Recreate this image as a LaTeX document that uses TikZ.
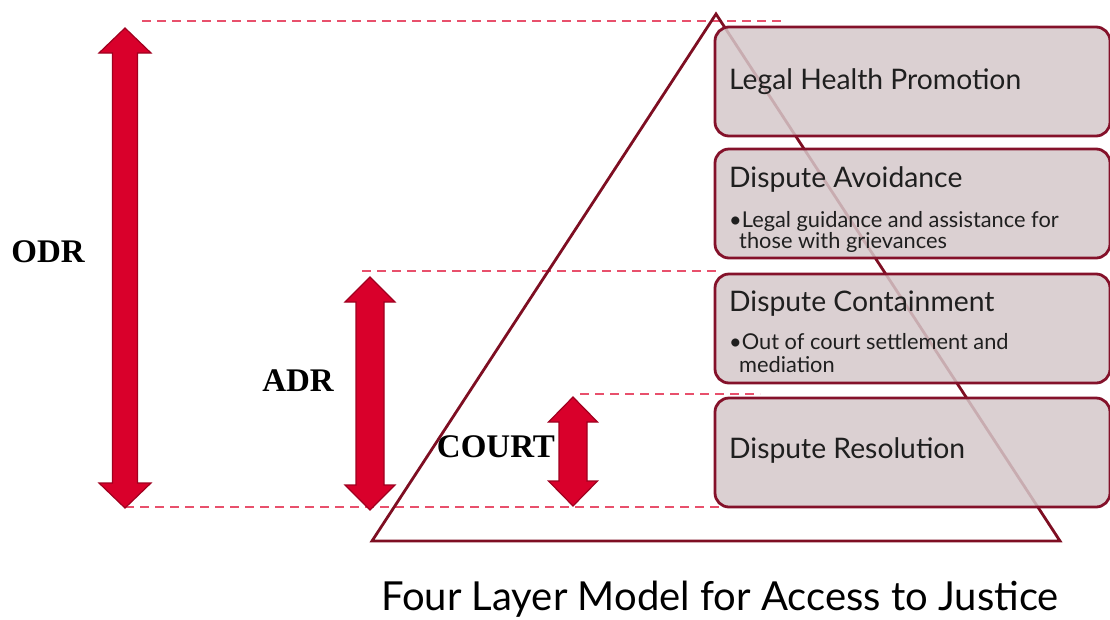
\documentclass[tikz,border=0pt]{standalone}
\usepackage{fontspec}
\setmainfont{Lato}
\newfontfamily\labelfont{Liberation Serif}
\definecolor{maroon}{HTML}{7E0E22}
\definecolor{boxfill}{HTML}{D5C8CA}
\definecolor{boxline}{HTML}{84112A}
\definecolor{guide}{HTML}{E8506C}
\definecolor{arrowfill}{HTML}{D9002B}
\definecolor{arrowline}{HTML}{A0001F}
\tikzset{
  guideline/.style={draw=guide, line width=1.4pt, dash pattern=on 9pt off 6pt},
  layerbox/.style={draw=boxline, line width=2.8pt, fill=boxfill, fill opacity=0.85, rounded corners=14pt},
  pyramid/.style={draw=maroon, line width=2.8pt, line join=miter},
  span arrow/.style={fill=arrowfill, draw=arrowline, line width=1.2pt, line join=miter},
  sidelabel/.style={font=\labelfont\bfseries\fontsize{33}{36}\selectfont, inner sep=0pt},
  layertitle/.style={anchor=base west, inner sep=0pt, font=\fontsize{28.3}{32}\selectfont, text=black!88},
  layerpoint/.style={anchor=base west, inner sep=0pt, font=\fontsize{21.8}{24}\selectfont, text=black!88},
}
% double-headed vertical arrow: x, top y, bottom y, head half-width, shaft half-width, head length
\newcommand{\spanarrow}[6]{%
  \draw[span arrow] (#1,#2) -- (#1+#4,#2+#6) -- (#1+#5,#2+#6) -- (#1+#5,#3-#6)
    -- (#1+#4,#3-#6) -- (#1,#3) -- (#1-#4,#3-#6) -- (#1-#5,#3-#6)
    -- (#1-#5,#2+#6) -- (#1-#4,#2+#6) -- cycle;}
\begin{document}
\begin{tikzpicture}[x=1pt,y=-1pt]
\useasboundingbox (0,0) rectangle (1110,619);

% dashed level guides
\coordinate (g1a) at (142,21);  \coordinate (g1b) at (785,21);
\coordinate (g2a) at (362,271); \coordinate (g2b) at (720,271);
\coordinate (g3a) at (580,394); \coordinate (g3b) at (760,394);
\coordinate (g4a) at (125,507); \coordinate (g4b) at (725,507);
\draw[guideline] (g1a) -- (g1b);
\draw[guideline] (g2a) -- (g2b);
\draw[guideline] (g3a) -- (g3b);
\draw[guideline] (g4a) -- (g4b);

% pyramid outline
\coordinate (apex) at (716,14);
\coordinate (baseL) at (372,541);
\coordinate (baseR) at (1060,541);
\draw[pyramid] (apex) -- (baseR) -- (baseL) -- cycle;

% layer boxes
\draw[layerbox] (715,27) rectangle (1110,136);
\draw[layerbox] (715,149) rectangle (1110,258);
\draw[layerbox] (715,274) rectangle (1110,383);
\draw[layerbox] (715,398) rectangle (1110,507);

% layer texts
\node[layertitle] (lhp) at (729,89) {Legal Health Promotion};
\node[layertitle] (da) at (729,187) {Dispute Avoidance};
\node[layerpoint] (da1) at (729,227) {\textbullet Legal guidance and assistance for};
\node[layerpoint] (da2) at (739,248) {those with grievances};
\node[layertitle] (dc) at (729,311) {Dispute Containment};
\node[layerpoint] (dc1) at (729,349) {\textbullet Out of court settlement and};
\node[layerpoint] (dc2) at (739,372) {mediation};
\node[layertitle] (dr) at (729,458) {Dispute Resolution};

% span arrows
\spanarrow{125}{28}{508}{26}{12.5}{25}
\spanarrow{370}{277}{510}{25}{14}{25}
\spanarrow{573}{397}{506}{24.5}{14}{25}

% span labels
\node[sidelabel] (odr) at (48,252) {ODR};
\node[sidelabel] (adr) at (298,381) {ADR};
\node[sidelabel] (court) at (496,447) {COURT};

% caption
\node[anchor=base west, inner sep=0pt, font=\fontsize{40}{44}\selectfont] (caption) at (381,610) {Four Layer Model for Access to Justice};
\end{tikzpicture}
\end{document}
